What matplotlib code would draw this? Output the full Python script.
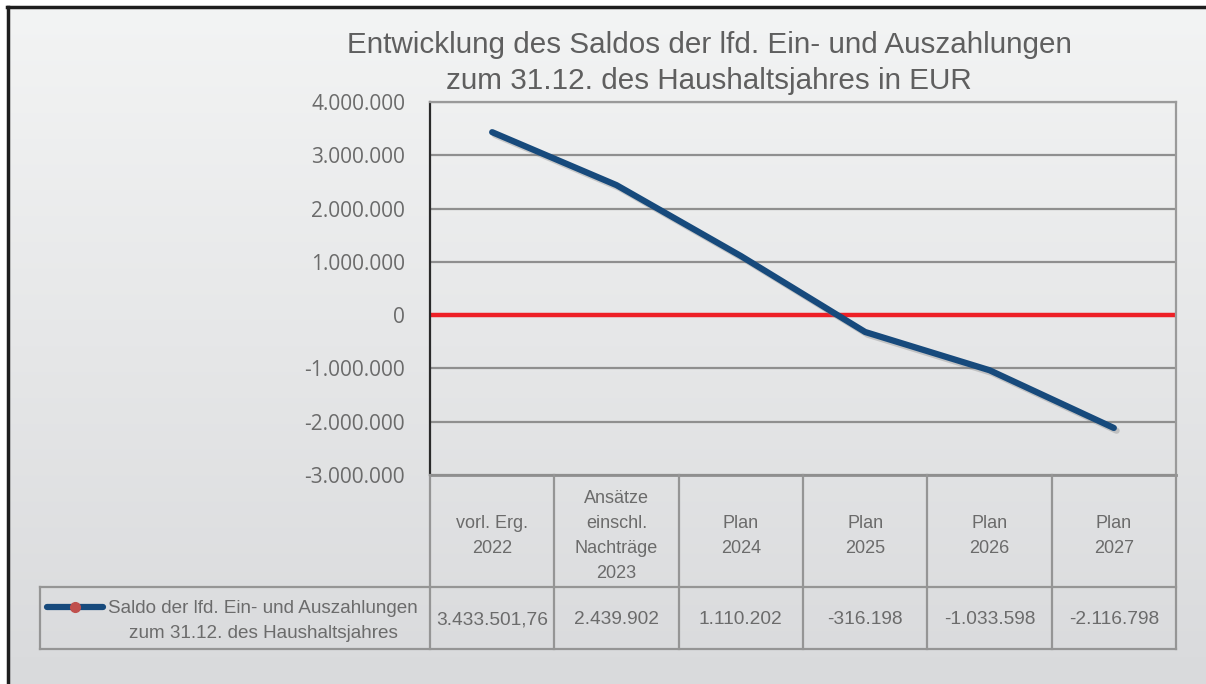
import matplotlib
matplotlib.use("Agg")
import matplotlib.pyplot as plt
import matplotlib.patheffects as pe
import numpy as np
from matplotlib.lines import Line2D

# ---- data ----
categories = ["vorl. Erg.\n2022", "Ansätze\neinschl.\nNachträge\n2023", "Plan\n2024",
              "Plan\n2025", "Plan\n2026", "Plan\n2027"]
values = [3433501.76, 2439902, 1110202, -316198, -1033598, -2116798]
value_labels = ["3.433.501,76", "2.439.902", "1.110.202", "-316.198", "-1.033.598", "-2.116.798"]
series_name = "Saldo der lfd. Ein- und Auszahlungen\nzum 31.12. des Haushaltsjahres"
title = "Entwicklung des Saldos der lfd. Ein- und Auszahlungen\nzum 31.12. des Haushaltsjahres in EUR"
y_ticks = [-3000000, -2000000, -1000000, 0, 1000000, 2000000, 3000000, 4000000]

W, H = 1206, 684
fig = plt.figure(figsize=(W / 100, H / 100), dpi=100)
fig.patch.set_facecolor("white")

def fx(x):
    return x / W

def fy(y):
    return 1 - y / H

# background gradient inside frame
bg = fig.add_axes([fx(8), 0, 1 - fx(8), fy(7)])
grad = np.linspace(0, 1, 256).reshape(-1, 1)
c_top = np.array([0.953, 0.957, 0.957])
c_bot = np.array([0.851, 0.855, 0.863])
img = c_top + (c_bot - c_top) * grad[:, :, None] * np.ones((1, 1, 3))
bg.imshow(img, aspect="auto", extent=[0, 1, 0, 1], origin="upper")
bg.set_axis_off()
# frame lines
fig.add_artist(Line2D([fx(7.5), fx(7.5)], [0, fy(6.5)], color="#1e1e1e", lw=2.5))
fig.add_artist(Line2D([fx(6.5), 1], [fy(6.5), fy(6.5)], color="#1e1e1e", lw=2.5))

# title
fig.text(fx(709), fy(63), title, ha="center", va="center", fontsize=21.3,
         color="#5f5f5f", family=["Liberation Sans", "DejaVu Sans"],
         linespacing=1.32)

# plot axes
L, R, T, B = 430, 1176, 102, 475
ax = fig.add_axes([fx(L), fy(B), fx(R - L), fy(T) - fy(B)])
ax.set_facecolor("none")
x = np.arange(len(categories))
ax.set_xlim(-0.5, len(categories) - 0.5)
ax.set_ylim(-3000000, 4000000)
ax.set_yticks(y_ticks)
ax.set_yticklabels([f"{v:,.0f}".replace(",", ".") for v in y_ticks])
ax.tick_params(axis="y", length=0, pad=18, labelsize=15, labelcolor="#6b6b6b")
for lab in ax.get_yticklabels():
    lab.set_family(["Open Sans", "DejaVu Sans"])
ax.set_xticks([])
for v in y_ticks:
    if v != 0:
        ax.axhline(v, color="#8f8f8f", lw=1.6, zorder=1)
ax.axhline(0, color="#ee2026", lw=3.2, zorder=2)
ax.spines["left"].set_color("#2a2a2a")
ax.spines["left"].set_linewidth(1.6)
for s in ["top", "right"]:
    ax.spines[s].set_color("#9a9a9a")
    ax.spines[s].set_linewidth(1.6)
ax.spines["bottom"].set_color("#8f8f8f")
ax.spines["bottom"].set_linewidth(2)
ax.plot(x, values, color="#174a7c", lw=4.5, solid_capstyle="round", zorder=3,
        path_effects=[pe.SimpleLineShadow(offset=(2, -2), shadow_color="#808080", alpha=0.35),
                      pe.Normal()])

# table
tab_col = "#959595"
tab_lw = 1.6
cw = (R - L) / len(categories)
hdr_top, hdr_bot, row_bot = B, 587, 649
leg_left = 40
tfam = ["Liberation Sans", "DejaVu Sans"]
for i in range(len(categories) + 1):
    xx = L + i * cw
    fig.add_artist(Line2D([fx(xx), fx(xx)], [fy(row_bot), fy(hdr_top)], color=tab_col, lw=tab_lw))
fig.add_artist(Line2D([fx(leg_left), fx(leg_left)], [fy(row_bot), fy(hdr_bot)], color=tab_col, lw=tab_lw))
fig.add_artist(Line2D([fx(leg_left), fx(R)], [fy(hdr_bot), fy(hdr_bot)], color=tab_col, lw=tab_lw))
fig.add_artist(Line2D([fx(leg_left), fx(R)], [fy(row_bot), fy(row_bot)], color=tab_col, lw=tab_lw))
for i, (c, v) in enumerate(zip(categories, value_labels)):
    cx = L + (i + 0.5) * cw
    fig.text(fx(cx), fy((hdr_top + hdr_bot) / 2 + 5), c, ha="center", va="center",
             fontsize=13, color="#6b6b6b", family=tfam, linespacing=1.62)
    fig.text(fx(cx), fy((hdr_bot + row_bot) / 2 + 2), v, ha="center", va="center",
             fontsize=13.8, color="#6b6b6b", family=tfam)
# legend cell
fig.add_artist(Line2D([fx(47), fx(103)], [fy(607), fy(607)], color="#174a7c", lw=4.5,
                      solid_capstyle="round"))
fig.add_artist(Line2D([fx(75)], [fy(607)], marker="o", markersize=7, color="#c0504d", lw=0))
fig.text(fx(263), fy(621), series_name, ha="center", va="center", fontsize=13.6,
         color="#6b6b6b", family=tfam, linespacing=1.55, multialignment="center")

fig.savefig("out.png", dpi=100, facecolor="white")
